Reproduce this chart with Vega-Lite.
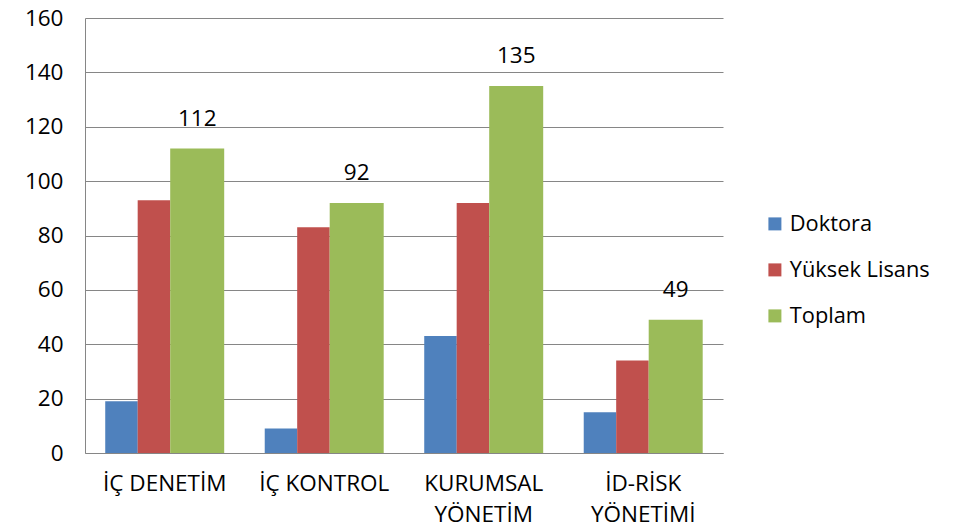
{
  "$schema": "https://vega.github.io/schema/vega-lite/v6.json",
  "width": 638,
  "height": 435,
  "autosize": {"type": "none"},
  "padding": {"left": 85, "top": 18, "right": 234, "bottom": 74},
  "background": "white",
  "config": {
    "font": "Open Sans",
    "view": {"stroke": null},
    "axis": {"labelFont": "Open Sans", "labelColor": "#000000", "titleColor": "#000000"},
    "legend": {"labelFont": "Open Sans"}
  },
  "data": {
    "values": [
      {"category": "İÇ DENETİM", "series": "Doktora", "value": 19},
      {"category": "İÇ DENETİM", "series": "Yüksek Lisans", "value": 93},
      {"category": "İÇ DENETİM", "series": "Toplam", "value": 112},
      {"category": "İÇ KONTROL", "series": "Doktora", "value": 9},
      {"category": "İÇ KONTROL", "series": "Yüksek Lisans", "value": 83},
      {"category": "İÇ KONTROL", "series": "Toplam", "value": 92},
      {"category": "KURUMSAL YÖNETİM", "series": "Doktora", "value": 43},
      {"category": "KURUMSAL YÖNETİM", "series": "Yüksek Lisans", "value": 92},
      {"category": "KURUMSAL YÖNETİM", "series": "Toplam", "value": 135},
      {"category": "İD-RİSK YÖNETİMİ", "series": "Doktora", "value": 15},
      {"category": "İD-RİSK YÖNETİMİ", "series": "Yüksek Lisans", "value": 34},
      {"category": "İD-RİSK YÖNETİMİ", "series": "Toplam", "value": 49}
    ]
  },
  "encoding": {
    "x": {
      "field": "category",
      "type": "nominal",
      "sort": null,
      "scale": {"paddingInner": 0.254, "paddingOuter": 0.127},
      "axis": {
        "title": null,
        "labelAngle": 0,
        "labelFontSize": 22.5,
        "labelLineHeight": 31,
        "labelPadding": 19,
        "labelBaseline": "top",
        "ticks": false,
        "tickSize": 0,
        "domainColor": "#868686",
        "domainWidth": 1,
        "labelExpr": "indexof(datum.label, 'YÖNETİM') > 0 ? split(datum.label, ' ') : datum.label"
      }
    },
    "xOffset": {
      "field": "series",
      "type": "nominal",
      "scale": {
        "type": "band",
        "domain": ["s0", "Doktora", "s2", "s3", "Yüksek Lisans", "s5", "s6", "s7", "Toplam", "s9", "s10"],
        "paddingInner": 0,
        "paddingOuter": 0
      }
    },
    "y": {
      "field": "value",
      "type": "quantitative",
      "scale": {"domain": [0, 160], "nice": false},
      "axis": {
        "title": null,
        "values": [0, 20, 40, 60, 80, 100, 120, 140, 160],
        "labelFontSize": 22.5,
        "labelPadding": 22,
        "ticks": false,
        "tickSize": 0,
        "grid": true,
        "gridColor": "#868686",
        "gridWidth": 1,
        "domainColor": "#868686",
        "domainWidth": 1
      }
    }
  },
  "layer": [
    {
      "transform": [{"filter": "datum.series != 'Toplam'"}],
      "mark": {"type": "bar", "width": 32.5},
      "encoding": {
        "color": {
          "field": "series",
          "type": "nominal",
          "scale": {
            "domain": ["Doktora", "Yüksek Lisans", "Toplam"],
            "range": ["#4F81BD", "#C0504D", "#9BBB59"]
          },
          "legend": {
            "title": null,
            "orient": "none",
            "legendX": 679,
            "legendY": 195,
            "symbolType": "square",
            "symbolSize": 169,
            "symbolStrokeWidth": 0,
            "labelFontSize": 21.8,
            "labelColor": "#000000",
            "rowPadding": 23,
            "labelOffset": 4
          }
        }
      }
    },
    {
      "transform": [{"filter": "datum.series == 'Toplam'"}],
      "mark": {"type": "bar", "width": 54},
      "encoding": {
        "color": {"field": "series", "type": "nominal"}
      }
    },
    {
      "transform": [{"filter": "datum.series == 'Toplam'"}],
      "mark": {"type": "text", "baseline": "alphabetic", "dy": -23, "fontSize": 22.5, "color": "#000000", "font": "Open Sans"},
      "encoding": {
        "text": {"field": "value", "type": "quantitative"}
      }
    }
  ]
}
